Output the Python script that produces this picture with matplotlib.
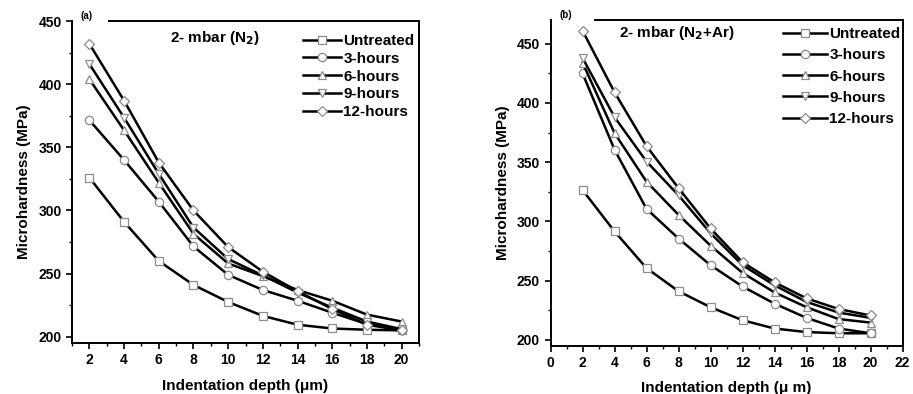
import numpy as np
import matplotlib.pyplot as plt
from matplotlib.ticker import MultipleLocator

plt.rcParams['font.family'] = ['Liberation Sans', 'DejaVu Sans']
plt.rcParams['font.weight'] = 'bold'

depth = [2, 4, 6, 8, 10, 12, 14, 16, 18, 20]
labels = ['Untreated', '3-hours', '6-hours', '9-hours', '12-hours']
markers = ['s', 'o', '^', 'v', 'D']

# panel (a): 2 mbar N2
hard_a = [
    [326, 291, 260, 241, 227.5, 216.5, 209.5, 206.5, 205.5, 205],
    [371.5, 340, 307, 271.5, 249, 237, 228.5, 219, 210, 205.5],
    [404, 363.5, 322, 281.5, 258, 248, 237, 228.5, 217.5, 212],
    [416, 373.5, 329, 286.5, 261.5, 248.5, 235, 223, 212, 206],
    [432, 387, 338, 300, 271, 251.5, 236, 222, 209.5, 205],
]

# panel (b): 2 mbar N2+Ar
hard_b = [
    [326.5, 291.5, 260.5, 241, 227.5, 216.5, 209.5, 206.5, 205.5, 205.5],
    [425, 360.5, 310.5, 285.5, 263, 245, 230.5, 218.5, 209.5, 205.5],
    [434, 374.5, 333.5, 305.5, 279.5, 256.5, 240, 227.5, 217.5, 214.5],
    [438, 388, 350.5, 322, 290, 263, 246, 232, 223, 218.5],
    [461, 409, 363.5, 328, 294, 265.5, 248.5, 235, 226, 220.5],
]

fig = plt.figure(figsize=(9.13, 3.94), dpi=100)
ax_a = fig.add_axes([0.0789, 0.1294, 0.380, 0.817])
ax_b = fig.add_axes([0.603, 0.1226, 0.3855, 0.8266])


def draw_panel(ax, data, xlim, ylim, title, title_pos, tag, gap, leg_pos, hlen, lspace):
    for vals, lab, m in zip(data, labels, markers):
        ax.plot(depth, vals, color='black', lw=1.8, marker=m, ms=6 if m != 'D' else 5.5,
                mfc='white', mec='#8c8c8c', mew=0.9, label=lab)
    ax.set_xlim(*xlim)
    ax.set_ylim(*ylim)
    ax.xaxis.set_major_locator(MultipleLocator(2))
    ax.xaxis.set_minor_locator(MultipleLocator(1))
    ax.yaxis.set_major_locator(MultipleLocator(50))
    ax.yaxis.set_minor_locator(MultipleLocator(25))
    ax.tick_params(which='major', direction='out', length=4, width=1.2, labelsize=10)
    ax.tick_params(which='minor', direction='out', length=2.5, width=1.0)
    for s in ax.spines.values():
        s.set_linewidth(1.4)
    for t in ax.get_xticklabels() + ax.get_yticklabels():
        t.set_fontweight('bold')
    ax.set_ylabel('Microhardness (MPa)', fontsize=11, fontweight='bold', labelpad=5)
    ax.text(title_pos[0], title_pos[1], title, transform=ax.transAxes, ha='center',
            va='center', fontsize=11, fontweight='bold')
    # white patch breaks the top spine behind the panel tag
    ax.add_patch(plt.Rectangle((0.004, 0.985), gap, 0.05, transform=ax.transAxes,
                               facecolor='white', edgecolor='none', clip_on=False, zorder=5))
    ax.text(0.025, 1.0, tag, transform=ax.transAxes, ha='left', va='bottom',
            fontsize=7, fontweight='bold', zorder=6)
    ax.legend(loc='upper left', bbox_to_anchor=leg_pos, frameon=False,
              borderpad=0, handlelength=hlen, handletextpad=0.15, labelspacing=lspace,
              borderaxespad=0, prop={'weight': 'bold', 'size': 11})


draw_panel(ax_a, hard_a, (1, 21), (195, 450), '2- mbar (N$_\\mathbf{2}$)', (0.412, 0.947),
           '(a)', 0.1, (0.665, 0.96), 2.5, 0.25)
draw_panel(ax_b, hard_b, (0, 22), (195, 470), '2- mbar (N$_\\mathbf{2}$+Ar)', (0.359, 0.96),
           '(b)', 0.12, (0.66, 0.978), 2.9, 0.47)

ax_a.set_xlabel('Indentation depth (\u03bcm)', fontsize=11, fontweight='bold', labelpad=8)
ax_b.set_xlabel('Indentation depth (\u03bc m)', fontsize=11, fontweight='bold', labelpad=8)

fig.savefig('out.png', dpi=100)
